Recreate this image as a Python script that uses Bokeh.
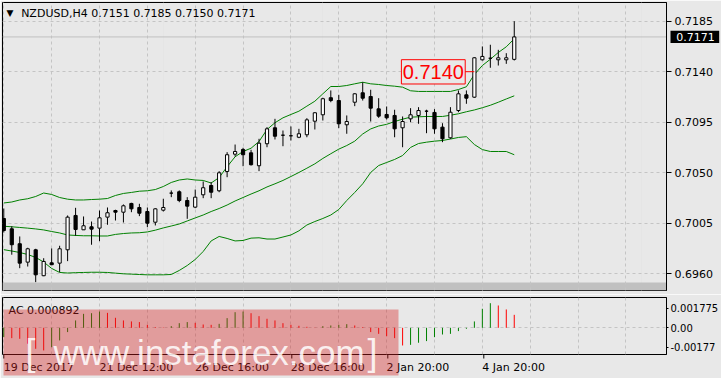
from bokeh.plotting import figure
from bokeh.models import (Range1d, FixedTicker, PrintfTickFormatter, Grid, GridBox, Column,
                          BoxAnnotation, Label, Span)
from bokeh.core.properties import value
from bokeh.embed import file_html
from bokeh.resources import INLINE

# ---------------- data ----------------
symbol = "NZDUSD,H4"
bars = list(range(65))
opens = [0.70092, 0.70000, 0.69867, 0.69703, 0.69813, 0.69582, 0.69697, 0.69694, 0.69813, 0.70119,
         0.69991, 0.70018, 0.70006, 0.70104, 0.70163, 0.70148, 0.70226, 0.70190, 0.70154, 0.70059,
         0.70166, 0.70318, 0.70330, 0.70252, 0.70193, 0.70303, 0.70386, 0.70339, 0.70511, 0.70665,
         0.70707, 0.70677, 0.70562, 0.70758, 0.70900, 0.70834, 0.70829, 0.70816, 0.70838, 0.70959,
         0.71016, 0.71168, 0.71143, 0.70927, 0.71128, 0.71212, 0.71179, 0.71069, 0.71019, 0.71010,
         0.70900, 0.70980, 0.71010, 0.71048, 0.71037, 0.70906, 0.70811, 0.71054, 0.71194, 0.71173,
         0.71506, 0.71520, 0.71506, 0.71506, 0.71510]
highs = [0.70181, 0.70023, 0.69932, 0.69831, 0.69822, 0.69738, 0.69825, 0.69849, 0.70119, 0.70187,
         0.70110, 0.70065, 0.70163, 0.70190, 0.70170, 0.70217, 0.70232, 0.70223, 0.70190, 0.70184,
         0.70268, 0.70342, 0.70342, 0.70282, 0.70350, 0.70422, 0.70416, 0.70514, 0.70683, 0.70751,
         0.70722, 0.70704, 0.70802, 0.70906, 0.70980, 0.70876, 0.70912, 0.70891, 0.70986, 0.71039,
         0.71168, 0.71233, 0.71194, 0.71010, 0.71208, 0.71306, 0.71239, 0.71164, 0.71090, 0.71061,
         0.71001, 0.71075, 0.71084, 0.71061, 0.71066, 0.70941, 0.71084, 0.71233, 0.71233, 0.71529,
         0.71625, 0.71640, 0.71595, 0.71565, 0.71850]
lows = [0.69967, 0.69769, 0.69649, 0.69664, 0.69525, 0.69578, 0.69678, 0.69614, 0.69712, 0.69938,
        0.69990, 0.69858, 0.69890, 0.70036, 0.70074, 0.70056, 0.70148, 0.70113, 0.70015, 0.70030,
        0.70154, 0.70282, 0.70237, 0.70089, 0.70184, 0.70273, 0.70273, 0.70326, 0.70460, 0.70644,
        0.70558, 0.70564, 0.70514, 0.70727, 0.70796, 0.70736, 0.70787, 0.70808, 0.70816, 0.70885,
        0.70965, 0.71128, 0.70897, 0.70847, 0.71093, 0.71143, 0.70956, 0.70989, 0.70974, 0.70816,
        0.70727, 0.70950, 0.70936, 0.70852, 0.70847, 0.70772, 0.70802, 0.71039, 0.71114, 0.71167,
        0.71500, 0.71435, 0.71455, 0.71470, 0.71500]
closes = [0.69985, 0.69858, 0.69694, 0.69822, 0.69590, 0.69709, 0.69680, 0.69822, 0.70104, 0.69994,
          0.70027, 0.69997, 0.70098, 0.70143, 0.70148, 0.70205, 0.70178, 0.70139, 0.70050, 0.70178,
          0.70190, 0.70318, 0.70252, 0.70202, 0.70282, 0.70366, 0.70326, 0.70499, 0.70660, 0.70689,
          0.70660, 0.70571, 0.70763, 0.70891, 0.70825, 0.70834, 0.70829, 0.70847, 0.70971, 0.71034,
          0.71159, 0.71143, 0.70936, 0.70956, 0.71203, 0.71164, 0.71075, 0.71004, 0.70989, 0.70891,
          0.70956, 0.71016, 0.71054, 0.71048, 0.70891, 0.70802, 0.71039, 0.71203, 0.71164, 0.71524,
          0.71536, 0.71520, 0.71524, 0.71524, 0.71710]
bb_upper = [0.70230, 0.70239, 0.70257, 0.70268, 0.70288, 0.70319, 0.70306, 0.70279, 0.70264, 0.70257,
            0.70257, 0.70261, 0.70264, 0.70270, 0.70297, 0.70315, 0.70324, 0.70335, 0.70339, 0.70350,
            0.70377, 0.70413, 0.70435, 0.70444, 0.70435, 0.70431, 0.70408, 0.70457, 0.70553, 0.70642,
            0.70689, 0.70718, 0.70778, 0.70885, 0.70945, 0.70989, 0.71019, 0.71048, 0.71093, 0.71137,
            0.71203, 0.71268, 0.71268, 0.71277, 0.71292, 0.71306, 0.71292, 0.71286, 0.71277, 0.71271,
            0.71262, 0.71230, 0.71224, 0.71224, 0.71224, 0.71224, 0.71224, 0.71241, 0.71266, 0.71375,
            0.71455, 0.71511, 0.71571, 0.71622, 0.71693]
bb_middle = [0.70023, 0.70018, 0.70012, 0.70006, 0.69999, 0.69990, 0.69976, 0.69963, 0.69945, 0.69941,
             0.69938, 0.69938, 0.69936, 0.69936, 0.69950, 0.69958, 0.69963, 0.69965, 0.69972, 0.69988,
             0.70008, 0.70025, 0.70043, 0.70070, 0.70097, 0.70123, 0.70154, 0.70181, 0.70212, 0.70248,
             0.70279, 0.70310, 0.70339, 0.70373, 0.70401, 0.70431, 0.70466, 0.70502, 0.70540, 0.70579,
             0.70627, 0.70669, 0.70710, 0.70742, 0.70781, 0.70845, 0.70890, 0.70916, 0.70931, 0.70956,
             0.70977, 0.70995, 0.70998, 0.71001, 0.71001, 0.71001, 0.71012, 0.71025, 0.71043, 0.71059,
             0.71079, 0.71101, 0.71128, 0.71157, 0.71185]
bb_lower = [0.69814, 0.69802, 0.69789, 0.69771, 0.69745, 0.69704, 0.69647, 0.69611, 0.69606, 0.69609,
            0.69611, 0.69613, 0.69613, 0.69611, 0.69605, 0.69599, 0.69596, 0.69593, 0.69590, 0.69590,
            0.69590, 0.69593, 0.69629, 0.69673, 0.69727, 0.69798, 0.69892, 0.69932, 0.69914, 0.69892,
            0.69896, 0.69917, 0.69920, 0.69909, 0.69909, 0.69927, 0.69945, 0.69982, 0.70034, 0.70065,
            0.70092, 0.70123, 0.70172, 0.70252, 0.70324, 0.70401, 0.70502, 0.70564, 0.70591, 0.70618,
            0.70653, 0.70725, 0.70760, 0.70772, 0.70781, 0.70787, 0.70800, 0.70814, 0.70821, 0.70751,
            0.70706, 0.70689, 0.70689, 0.70689, 0.70660]
ac = [-0.00085, -0.00094, -0.00100, -0.00145, -0.00191, -0.00206, -0.00176, -0.00115, -0.00039, 0.00067,
      0.00127, 0.00133, 0.00148, 0.00136, 0.00091, 0.00067, 0.00058, 0.00052, 0.00027, 0.00006,
      0.00003, 0.00015, 0.00042, 0.00052, 0.00045, 0.00030, 0.00027, 0.00036, 0.00088, 0.00142,
      0.00148, 0.00133, 0.00106, 0.00082, 0.00067, 0.00042, 0.00027, 0.00018, 0.00009, -0.00002,
      0.00015, 0.00021, 0.00027, 0.00033, 0.00021, 0.00006, -0.00039, -0.00055, -0.00076, -0.00094,
      -0.00161, -0.00155, -0.00136, -0.00121, -0.00085, -0.00061, -0.00055, -0.00030, -0.00009, 0.00058,
      0.00173, 0.00224, 0.00203, 0.00167, 0.00118]
ac_last = 0.000892
price_ticks = [0.6960, 0.7005, 0.7050, 0.7095, 0.7140, 0.7185]
time_ticks = [0, 12, 24, 36, 48, 60]
time_labels = ["19 Dec 2017", "21 Dec 12:00", "26 Dec 16:00", "28 Dec 16:00", "2 Jan 20:00", "4 Jan 20:00"]
grid_ticks = list(range(0, 84, 6))
ac_ticks = [-0.001775, 0, 0.001775]
ac_tick_labels = ["-0.00177", "0.00", "0.001775"]
level_price = 0.7140
level_bar = 59
last_price = closes[-1]
watermark = "www.instaforex.com"

# ---------------- geometry / style ----------------
BG = "#e8e8e8"
GRID_C = "#c4c4c4"
GREEN = "#008000"
RED = "#ff0000"
FONT = "DejaVu Sans"
W, H = 721, 378
X0, X1 = -0.1625, 83.0875          # bar-index range of the chart frames (x = 2 .. 668 px)
FRAME_W = 666
px_per_bar = FRAME_W / (X1 - X0)
P_BOT, P_TOP = 0.694503, 0.720166  # price range of main frame (y = 290 .. 2 px)
A_BOT, A_TOP = -0.00243, 0.002758  # AC range of sub frame (y = 354 .. 297 px)
MAIN_H, SUB_H = 294, 84
P_PX = (P_TOP - P_BOT) / 288
A_PX = (A_TOP - A_BOT) / 57

xr = Range1d(X0, X1)

# ---------------- main price panel ----------------
p = figure(width=W, height=MAIN_H, x_range=xr, y_range=Range1d(P_BOT, P_TOP),
           x_axis_location=None, y_axis_location="right",
           output_backend="svg", toolbar_location=None,
           min_border_left=2, min_border_right=53, min_border_top=2, min_border_bottom=4,
           background_fill_color=BG, border_fill_color=BG, outline_line_color="black")

ya = p.yaxis[0]
ya.ticker = FixedTicker(ticks=price_ticks)
ya.formatter = PrintfTickFormatter(format="%.4f")
ya.major_tick_out = 5
ya.major_tick_in = 0
ya.minor_tick_out = 0
ya.minor_tick_in = 0
ya.major_label_standoff = 3
ya.major_label_text_font = FONT
ya.major_label_text_font_size = "11px"
ya.major_label_text_color = "black"
ya.axis_line_color = "black"
ya.major_tick_line_color = "black"
p.ygrid.ticker = FixedTicker(ticks=price_ticks)
p.ygrid.grid_line_color = GRID_C
p.ygrid.grid_line_dash = "3 3"

p.add_layout(BoxAnnotation(bottom=P_BOT, top=P_BOT + 8 * P_PX, fill_color="#c0c0c0", fill_alpha=1.0,
                           line_color=None, level="underlay"))
p.add_layout(Grid(dimension=0, ticker=FixedTicker(ticks=grid_ticks), grid_line_color=GRID_C,
                  grid_line_dash="3 3"))
p.add_layout(Span(location=last_price, dimension="width", line_color="#c0c0c0", line_width=1,
                  level="underlay"))

for band in (bb_upper, bb_middle, bb_lower):
    p.line(bars, band, line_color=GREEN, line_width=1)

body_top = [max(o, c) for o, c in zip(opens, closes)]
body_bot = [min(o, c) for o, c in zip(opens, closes)]
body_fill = ["white" if c >= o else "black" for o, c in zip(opens, closes)]
p.segment(x0=bars, y0=lows, x1=bars, y1=highs, line_color="black", line_width=1)
p.vbar(x=bars, top=body_top, bottom=body_bot, width=0.4, fill_color=body_fill,
       line_color="black", line_width=1)

# 0.7140 level call-out
box_l, box_r = 49.85, 57.85
p.quad(left=[box_l], right=[box_r], top=[level_price + 12 * P_PX], bottom=[level_price - 12.3 * P_PX],
       fill_color=BG, line_color="red", line_width=1)
p.text(x=[(box_l + box_r) / 2], y=[level_price], text=[f"{level_price:.4f}"],
       text_align="center", text_baseline="middle", text_color="red",
       text_font=value("Liberation Sans"), text_font_size="20px")
p.segment(x0=[box_r], y0=[level_price], x1=[level_bar], y1=[level_price], line_color="red", line_width=1)

title_txt = f"{symbol}  {opens[-1]:.4f} {highs[-1]:.4f} {lows[-1]:.4f} {closes[-1]:.4f}"
p.add_layout(Label(x=0.775, y=P_TOP - 10.5 * P_PX, text="\u25bc", text_align="center",
                   text_baseline="middle", text_font=FONT, text_font_size="9px", text_color="black"))
p.add_layout(Label(x=2.175, y=P_TOP - 10.5 * P_PX, text=title_txt, text_baseline="middle",
                   text_font=FONT, text_font_size="11px", text_color="black"))

# ---------------- AC sub window ----------------
q = figure(width=W, height=SUB_H, x_range=xr, y_range=Range1d(A_BOT, A_TOP),
           y_axis_location="right", output_backend="svg", toolbar_location=None,
           min_border_left=2, min_border_right=53, min_border_top=3, min_border_bottom=24,
           background_fill_color=BG, border_fill_color=BG, outline_line_color="black")

qy = q.yaxis[0]
qy.ticker = FixedTicker(ticks=ac_ticks)
qy.major_label_overrides = {t: s for t, s in zip(ac_ticks, ac_tick_labels)}
qy.major_tick_out = 2
qy.major_tick_in = 0
qy.minor_tick_out = 0
qy.minor_tick_in = 0
qy.major_label_standoff = 2
qy.major_label_text_font = FONT
qy.major_label_text_font_size = "10px"
qy.major_label_text_color = "black"
qy.axis_line_color = "black"
q.ygrid.ticker = FixedTicker(ticks=[0])
q.ygrid.grid_line_color = GRID_C
q.ygrid.grid_line_dash = "3 3"

# time axis: labels start at their tick (MetaTrader style)
EM = {"0": .636, "1": .636, "2": .636, "3": .636, "4": .636, "5": .636, "6": .636, "7": .636,
      "8": .636, "9": .636, " ": .318, ":": .337, "D": .770, "e": .615, "c": .550, "J": .295,
      "a": .613, "n": .634}
def text_w(s, size=11):
    return sum(EM.get(ch, 0.6) for ch in s) * size
label_pos = [t + text_w(s) / 2 / px_per_bar for t, s in zip(time_ticks, time_labels)]
qx = q.xaxis[0]
qx.ticker = FixedTicker(ticks=label_pos)
qx.major_label_overrides = {pos: s for pos, s in zip(label_pos, time_labels)}
qx.major_tick_out = 0
qx.major_tick_in = 0
qx.minor_tick_out = 0
qx.minor_tick_in = 0
qx.axis_line_color = None
qx.major_label_standoff = 6
qx.major_label_text_font = FONT
qx.major_label_text_font_size = "11px"
qx.major_label_text_color = "black"
q.xgrid.ticker = FixedTicker(ticks=grid_ticks)
q.xgrid.grid_line_color = GRID_C
q.xgrid.grid_line_dash = "3 3"

ac_colors = [GREEN if (i == 0 or ac[i] > ac[i - 1]) else RED for i in range(len(ac))]
q.segment(x0=bars, y0=[0] * len(ac), x1=bars, y1=ac, line_color=ac_colors, line_width=1)

q.add_layout(Label(x=0.6, y=A_TOP - 13 * A_PX, text=f"AC {ac_last:.6f}", text_baseline="middle",
                   text_font=FONT, text_font_size="11px", text_color="black"))

# ---------------- transparent overlay over the whole page ----------------
ov = figure(width=W, height=H, output_backend="svg", toolbar_location=None,
            x_axis_location=None, y_axis_location=None,
            x_range=Range1d(X0 - 2 / px_per_bar, X0 + (W - 2) / px_per_bar),
            y_range=Range1d(P_BOT - (H - 290) * P_PX, P_TOP + 2 * P_PX),
            min_border=0, min_border_left=0, min_border_right=0, min_border_top=0, min_border_bottom=0,
            background_fill_color=None, border_fill_color=None, outline_line_color=None)
ov.extra_y_ranges = {"ac": Range1d(A_BOT - (H - 354) * A_PX, A_TOP + 297 * A_PX)}
ov.grid.visible = False

# time-axis tick marks under the AC window
ov.segment(x0=time_ticks, x1=time_ticks, y0=[A_BOT] * len(time_ticks),
           y1=[A_BOT - 4 * A_PX] * len(time_ticks), line_color="black", line_width=1,
           y_range_name="ac")

# current price marker on the price scale
ov.quad(left=[X1 + 2 / px_per_bar], right=[X1 + 50.7 / px_per_bar],
        top=[last_price + 6.2 * P_PX], bottom=[last_price - 6.2 * P_PX],
        fill_color="black", line_color=None)
ov.text(x=[X1 + 7.7 / px_per_bar], y=[last_price], text=[f"{last_price:.4f}"],
        text_align="left", text_baseline="middle", text_color="white",
        text_font=value(FONT), text_font_size="11px")

# watermark
ov.quad(left=[X0 + 1 / px_per_bar], right=[X0 + 396 / px_per_bar],
        top=[A_TOP - 12 * A_PX], bottom=[A_BOT - 21 * A_PX],
        fill_color="#d42020", fill_alpha=0.38, line_color=None, y_range_name="ac")
wm_y = A_BOT + 2.3 * A_PX
ov.text(x=[X0 + 23 / px_per_bar], y=[wm_y], text=["["], text_font=value("Liberation Sans"),
        text_font_size="36px", text_color="white", text_alpha=0.85, text_baseline="alphabetic",
        y_range_name="ac")
ov.text(x=[X0 + 51 / px_per_bar], y=[wm_y], text=[watermark], text_font=value("Liberation Sans"),
        text_font_size="35px", text_color="white", text_alpha=0.85, text_baseline="alphabetic",
        y_range_name="ac")
ov.text(x=[X0 + 365 / px_per_bar], y=[wm_y], text=["]"], text_font=value("Liberation Sans"),
        text_font_size="36px", text_color="white", text_alpha=0.85, text_baseline="alphabetic",
        y_range_name="ac")

charts = Column(children=[p, q], width=W, height=H)
layout = GridBox(children=[(charts, 0, 0), (ov, 0, 0)], width=W, height=H)
open("out.html", "w").write(file_html(layout, INLINE))
